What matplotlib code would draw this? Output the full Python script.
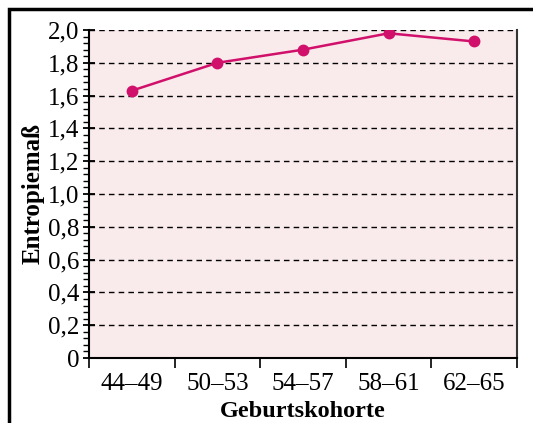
import numpy as np
import matplotlib.pyplot as plt
from matplotlib.patches import Rectangle

# Daten
kohorten = ['44–49', '50–53', '54–57', '58–61', '62–65']
entropie = [1.63, 1.80, 1.88, 1.98, 1.93]
y_ticks = [0, 0.2, 0.4, 0.6, 0.8, 1.0, 1.2, 1.4, 1.6, 1.8, 2.0]
y_labels = ['0', '0,2', '0,4', '0,6', '0,8', '1,0', '1,2', '1,4', '1,6', '1,8', '2,0']

plt.rcParams['font.family'] = ['Liberation Serif', 'DejaVu Serif']

fig = plt.figure(figsize=(5.33, 4.23), dpi=100)
ax = fig.add_axes([89/533, 1-358/423, (517-89)/533, (358-30)/423])

# Rahmen um die Abbildung (nur links und oben sichtbar)
fig.patches.append(Rectangle((8.5/533, -0.1), 1.2, 1.1-9.5/423, transform=fig.transFigure,
                             fill=False, edgecolor='black', linewidth=2.5))

ax.set_facecolor('#F9EAEC')
x = np.arange(len(kohorten))
ax.plot(x, entropie, color='#D0106A', linewidth=1.8, marker='o', markersize=7.5, zorder=3)

ax.set_xlim(-0.5, len(kohorten) - 0.5)
ax.set_ylim(0, 2.0)
ax.set_yticks(y_ticks)
ax.set_yticklabels(y_labels, fontsize=18)
ax.set_yticks(np.arange(0, 2.0001, 0.04), minor=True)
ax.set_xticks(np.arange(len(kohorten) + 1) - 0.5)
ax.set_xticklabels([''] * (len(kohorten) + 1))
ax.set_xticks(x, minor=True)
ax.set_xticklabels(kohorten, minor=True, fontsize=18)
ax.tick_params(axis='x', which='minor', length=0, pad=11)
ax.tick_params(axis='x', which='major', direction='out', length=7, width=1.2)
ax.tick_params(axis='y', which='major', direction='inout', length=8, width=1.3, pad=3)
ax.tick_params(axis='y', which='minor', direction='out', length=4, width=1)

for yv in y_ticks[1:]:
    ax.axhline(yv, color='black', linestyle=(0, (4, 3)), linewidth=1, zorder=1)

ax.spines['top'].set_visible(False)
ax.spines['right'].set_color('#333333')
ax.spines['right'].set_linewidth(1.5)
ax.spines['left'].set_linewidth(1.5)
ax.spines['bottom'].set_linewidth(1.5)

ax.set_ylabel('Entropiemaß', fontsize=18, fontweight='bold', labelpad=2)
ax.set_xlabel('Geburtskohorte', fontsize=17.5, fontweight='bold', labelpad=4)

fig.savefig('out.png', dpi=100)
